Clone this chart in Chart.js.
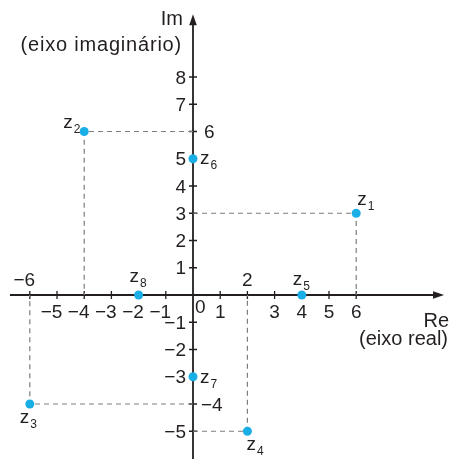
<!DOCTYPE html>
<html>
<head>
<meta charset="utf-8">
<script src="https://cdn.jsdelivr.net/npm/chart.js@4.4.1/dist/chart.umd.min.js"></script>
<style>
  html, body { margin: 0; padding: 0; background: #fff; }
  canvas { display: block; }
</style>
</head>
<body>
<canvas id="plano" width="449" height="459"></canvas>
<script>
// Complex numbers z1..z8 plotted on the Argand plane
const subscripts = ['1', '2', '3', '4', '5', '6', '7', '8'];
const realParts = [6, -4, -6, 2, 4, 0, 0, -2];
const imagParts = [3, 6, -4, -5, 0, 5, -3, 0];

// points that get dashed projections onto both axes
const projected = [0, 1, 2, 3];

// tick labels on each axis
const reTicks = [-6, -5, -4, -3, -2, -1, 1, 2, 3, 4, 5, 6];
const imTicks = [-5, -4, -3, -2, -1, 1, 2, 3, 4, 5, 6, 7, 8];
const reTicksAbove = [-6, 2];
const imTicksRight = [6, -4];

// visible span of each axis line (data units)
const RE_AXIS = [-6.73, 9.23];
const IM_AXIS = [-6.1, 10.3];

// where each "z" label sits relative to its point (px)
const labelOffsets = [[1, -8], [-21, -4], [-10, 19], [-1, 19], [-9, -10], [7, 5], [7, 6], [-9, -13]];

const INK = '#231f20';
const FONT = '"Liberation Sans", Arial, sans-serif';

function fmt(v) {
    return v < 0 ? '\u2212' + Math.abs(v) : String(v);
}

const planeAxes = {
    id: 'planeAxes',
    beforeDatasetsDraw(chart) {
        const { ctx, scales: { x, y } } = chart;
        const x0 = x.getPixelForValue(0);
        const y0 = y.getPixelForValue(0);
        const xl = x.getPixelForValue(RE_AXIS[0]);
        const xr = x.getPixelForValue(RE_AXIS[1]);
        const yt = y.getPixelForValue(IM_AXIS[1]);
        const yb = y.getPixelForValue(IM_AXIS[0]);

        ctx.save();
        ctx.strokeStyle = INK;
        ctx.fillStyle = INK;

        // axis lines
        ctx.lineWidth = 1.8;
        ctx.beginPath();
        ctx.moveTo(xl, y0);
        ctx.lineTo(xr - 6, y0);
        ctx.moveTo(x0, yb);
        ctx.lineTo(x0, yt + 6);
        ctx.stroke();

        // arrowheads
        ctx.beginPath();
        ctx.moveTo(xr, y0);
        ctx.lineTo(xr - 11, y0 - 3.8);
        ctx.lineTo(xr - 11, y0 + 3.8);
        ctx.closePath();
        ctx.moveTo(x0, yt);
        ctx.lineTo(x0 - 3.8, yt + 11);
        ctx.lineTo(x0 + 3.8, yt + 11);
        ctx.closePath();
        ctx.fill();

        // tick marks
        ctx.lineWidth = 1.3;
        ctx.beginPath();
        reTicks.forEach(v => {
            const px = x.getPixelForValue(v);
            ctx.moveTo(px, y0 - 4);
            ctx.lineTo(px, y0 + 4);
        });
        imTicks.forEach(v => {
            const py = y.getPixelForValue(v);
            ctx.moveTo(x0 - 4, py);
            ctx.lineTo(x0 + 4, py);
        });
        ctx.stroke();

        // tick labels
        ctx.font = '19px ' + FONT;
        ctx.textBaseline = 'alphabetic';
        ctx.textAlign = 'right';
        reTicks.forEach(v => {
            const px = x.getPixelForValue(v);
            const w = ctx.measureText(String(Math.abs(v))).width;
            const ty = reTicksAbove.includes(v) ? y0 - 9 : y0 + 23;
            ctx.fillText(fmt(v), px + w / 2, ty);
        });
        imTicks.forEach(v => {
            const py = y.getPixelForValue(v) + 6.5;
            if (imTicksRight.includes(v)) {
                ctx.textAlign = 'left';
                ctx.fillText(fmt(v), x0 + (v < 0 ? 8 : 11), py);
            } else {
                ctx.textAlign = 'right';
                ctx.fillText(fmt(v), x0 - 7, py);
            }
        });
        ctx.textAlign = 'left';
        ctx.fillText('0', x0 + 2, y0 + 18);

        // axis titles
        ctx.font = '20px ' + FONT;
        ctx.textAlign = 'right';
        ctx.fillText('Im', x0 - 10, yt + 11);
        ctx.fillText('Re', chart.width, y0 + 32);
        ctx.fillText('(eixo real)', chart.width - 1, y0 + 50);
        ctx.letterSpacing = '0.8px';
        ctx.fillText('(eixo imaginário)', x0 - 11, yt + 37);
        ctx.restore();
    },
    afterDatasetsDraw(chart) {
        const { ctx, scales: { x, y } } = chart;
        ctx.save();
        ctx.fillStyle = INK;
        ctx.textBaseline = 'alphabetic';
        ctx.textAlign = 'left';
        subscripts.forEach((s, i) => {
            const px = x.getPixelForValue(realParts[i]) + labelOffsets[i][0];
            const py = y.getPixelForValue(imagParts[i]) + labelOffsets[i][1];
            ctx.font = '19px ' + FONT;
            ctx.fillText('z', px, py);
            const w = ctx.measureText('z').width;
            ctx.font = '12px ' + FONT;
            ctx.fillText(s, px + w + 1, py + 5);
        });
        ctx.restore();
    }
};

const pointData = realParts.map((re, i) => ({ x: re, y: imagParts[i] }));

const projectionSets = projected.map(i => ({
    data: [
        { x: 0, y: imagParts[i] },
        { x: realParts[i], y: imagParts[i] },
        { x: realParts[i], y: 0 }
    ],
    showLine: true,
    borderColor: '#7d7d7d',
    borderWidth: 1.2,
    borderDash: [5, 4],
    pointRadius: 0,
    fill: false
}));

new Chart(document.getElementById('plano'), {
    type: 'scatter',
    data: {
        datasets: [{
            data: pointData,
            pointRadius: 4.5,
            pointBackgroundColor: '#19aee6',
            pointBorderWidth: 0
        }].concat(projectionSets)
    },
    options: {
        responsive: false,
        animation: false,
        layout: { padding: 0, autoPadding: false },
        plugins: {
            legend: { display: false },
            tooltip: { enabled: false }
        },
        scales: {
            x: { type: 'linear', display: false, min: -7.096, max: 9.412 },
            y: { type: 'linear', display: false, min: -6.018, max: 10.826 }
        }
    },
    plugins: [planeAxes]
});
</script>
</body>
</html>
